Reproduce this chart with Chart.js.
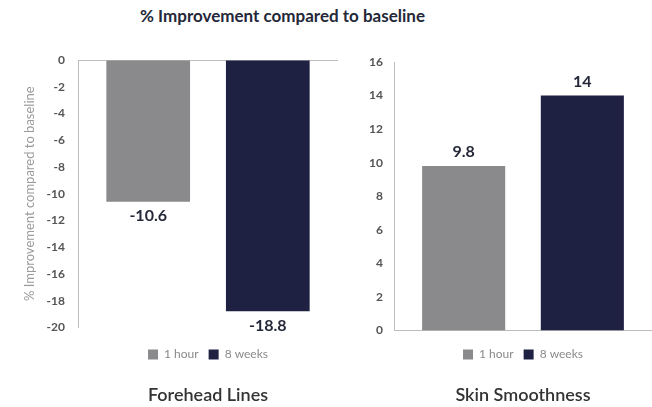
<!DOCTYPE html>
<html>
<head>
<meta charset="utf-8">
<script src="https://cdn.jsdelivr.net/npm/chart.js@4/dist/chart.umd.min.js"></script>
<style>
  html, body { margin: 0; padding: 0; background: #fff; }
  #wrap { position: relative; width: 652px; height: 407px; overflow: hidden; font-family: Lato, sans-serif; }
  #mainTitle { position: absolute; left: 0; top: 5px; width: 565px; text-align: center; font: bold 17px Lato, sans-serif; color: #252839; }
  #c1 { position: absolute; left: 0; top: 0; }
  #c2 { position: absolute; left: 352px; top: 0; }
</style>
</head>
<body>
<div id="wrap">
  <div id="mainTitle">% Improvement compared to baseline</div>
  <canvas id="c1" width="350" height="407"></canvas>
  <canvas id="c2" width="300" height="407"></canvas>
</div>
<script>
const seriesNames = ['1 hour', '8 weeks'];
const seriesColors = ['#8a8a8c', '#1e2142'];
const foreheadValues = [-10.6, -18.8];
const smoothnessValues = [9.8, 14];
const axisTitle = '% Improvement compared to baseline';

// value labels at the end of each bar
const valueLabels = {
  id: 'valueLabels',
  afterDatasetsDraw(chart) {
    const ctx = chart.ctx;
    ctx.save();
    ctx.font = 'bold 16px Lato, sans-serif';
    ctx.fillStyle = '#252839';
    ctx.textAlign = 'center';
    chart.data.datasets.forEach((ds, i) => {
      chart.getDatasetMeta(i).data.forEach((bar, j) => {
        const v = ds.data[j];
        if (v < 0) {
          ctx.textBaseline = 'top';
          ctx.fillText(String(v), bar.x, bar.y + 6);
        } else {
          ctx.textBaseline = 'bottom';
          ctx.fillText(String(v), bar.x, bar.y - 6);
        }
      });
    });
    ctx.restore();
  }
};

function makeDatasets(values) {
  return seriesNames.map((name, i) => ({
    label: name,
    data: [values[i]],
    backgroundColor: seriesColors[i],
    borderWidth: 0,
    categoryPercentage: 0.92,
    barPercentage: 0.7
  }));
}

const legendOpts = {
  position: 'bottom',
  fullSize: false,
  labels: {
    boxWidth: 10,
    boxHeight: 10,
    padding: 10,
    color: '#8a8a8a',
    font: { family: 'Lato', size: 12 }
  }
};

function titleOpts(text) {
  return {
    display: true,
    fullSize: false,
    text: text,
    position: 'bottom',
    color: '#333',
    font: { family: 'Lato', size: 18, weight: '600' },
    padding: { top: 14, bottom: 1 }
  };
}

const tickFont = { family: 'Lato', size: 12, weight: 'bold' };

new Chart(document.getElementById('c1'), {
  type: 'bar',
  data: { labels: ['Forehead Lines'], datasets: makeDatasets(foreheadValues) },
  options: {
    responsive: false,
    animation: false,
    layout: { padding: { top: 60, right: 12, left: 0, bottom: 0 } },
    scales: {
      x: {
        display: true,
        ticks: { display: false },
        grid: { display: false, drawTicks: false },
        border: { display: false },
        afterFit: s => { s.height = 11; }
      },
      y: {
        min: -20,
        max: 0,
        ticks: { stepSize: 2, color: '#555', font: tickFont, padding: 13 },
        grid: {
          drawTicks: false,
          color: c => (c.tick && c.tick.value === 0 ? '#bdbdbd' : 'rgba(0,0,0,0)')
        },
        border: { display: true, color: '#bdbdbd' },
        title: {
          display: true,
          text: axisTitle,
          color: '#9a9a9a',
          font: { family: 'Lato', size: 13 },
          padding: { top: 22, bottom: 0 }
        },
        afterFit: s => { s.width = 78; }
      }
    },
    plugins: {
      legend: legendOpts,
      title: titleOpts('Forehead Lines'),
      tooltip: { enabled: false }
    }
  },
  plugins: [valueLabels]
});

new Chart(document.getElementById('c2'), {
  type: 'bar',
  data: { labels: ['Skin Smoothness'], datasets: makeDatasets(smoothnessValues) },
  options: {
    responsive: false,
    animation: false,
    layout: { padding: { top: 62, right: 0, left: 0, bottom: 0 } },
    scales: {
      x: {
        ticks: { display: false },
        grid: { display: false, drawTicks: false },
        border: { display: true, color: '#bdbdbd' },
        afterFit: s => { s.height = 8; }
      },
      y: {
        min: 0,
        max: 16,
        ticks: { stepSize: 2, color: '#555', font: tickFont, padding: 11 },
        grid: { display: false, drawTicks: false },
        border: { display: true, color: '#bdbdbd' },
        afterFit: s => { s.width = 42; }
      }
    },
    plugins: {
      legend: legendOpts,
      title: titleOpts('Skin Smoothness'),
      tooltip: { enabled: false }
    }
  },
  plugins: [valueLabels]
});
</script>
</body>
</html>
